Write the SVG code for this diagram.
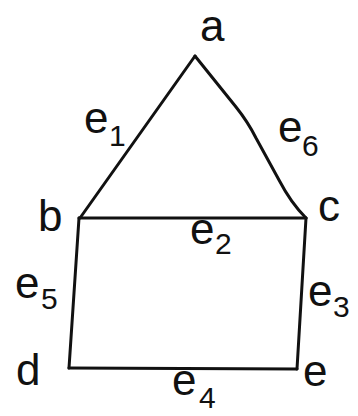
<svg xmlns="http://www.w3.org/2000/svg" width="358" height="416" viewBox="0 0 358 416">
<style>
.edge{fill:none;stroke:#111;stroke-width:3;stroke-linecap:round;stroke-linejoin:round}
.lbl{font-family:"Liberation Sans",Arial,sans-serif;font-size:44px;fill:#111}
.sub{font-size:30px}
</style>
<rect width="358" height="416" fill="#fff"/>
<g id="connectors">
<path id="e1" class="edge" d="M195,56 L80,218"/>
<path id="e6" class="edge" d="M195,56 L236,107 Q248,122 256,138 L279,180 Q291,203 306,218"/>
<path id="e2" class="edge" d="M79,218 L306,218"/>
<path id="e3" class="edge" d="M306,218 L297,369"/>
<path id="e4" class="edge" d="M69,368 L297,369"/>
<path id="e5" class="edge" d="M79,218 L69,368"/>
</g>
<g id="node-a"><text class="lbl" x="200" y="41">a</text></g>
<g id="node-b"><text class="lbl" x="38" y="231">b</text></g>
<g id="node-c"><text class="lbl" x="318" y="221">c</text></g>
<g id="node-d"><text class="lbl" x="16" y="385">d</text></g>
<g id="node-e"><text class="lbl" x="303" y="386">e</text></g>
<g id="labels">
<text class="lbl" x="84" y="133">e<tspan class="sub" x="109" y="146">1</tspan></text>
<text class="lbl" x="278" y="142">e<tspan class="sub" x="302" y="156">6</tspan></text>
<text class="lbl" x="190" y="244">e<tspan class="sub" x="215" y="254">2</tspan></text>
<text class="lbl" x="15" y="298">e<tspan class="sub" x="41" y="309">5</tspan></text>
<text class="lbl" x="308" y="306">e<tspan class="sub" x="333" y="317">3</tspan></text>
<text class="lbl" x="172" y="395">e<tspan class="sub" x="199" y="408">4</tspan></text>
</g>
</svg>
